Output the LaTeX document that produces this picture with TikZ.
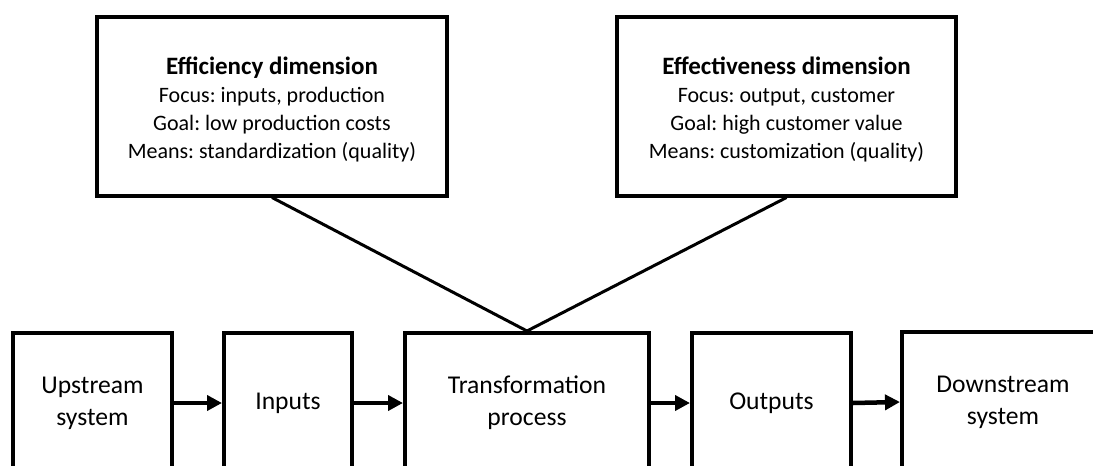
\documentclass[tikz,border=0pt]{standalone}
\usepackage{fontspec}
\setmainfont{Carlito}
\frenchspacing
\usetikzlibrary{arrows.meta}
\begin{document}
\begin{tikzpicture}[x=1pt,y=-1pt,
  topbox/.style={draw, line width=4pt, minimum width=#1, minimum height=179pt, inner sep=0pt},
  toptext/.style={align=center, inner sep=0pt, font=\fontsize{22}{28}\selectfont},
  headfont/.style={font=\fontsize{25}{28}\selectfont\bfseries},
  flowbox/.style={draw, line width=4pt, minimum width=#1, minimum height=140pt, align=center, inner sep=0pt, font=\fontsize{25.6}{32}\selectfont},
  link/.style={line width=3pt},
  flow/.style={line width=4.5pt, -{Triangle[length=15pt,width=15pt]}}]
\useasboundingbox (0,0) rectangle (1093,466);
\clip (0,0) rectangle (1093,466);
\node[topbox=350pt] (eff) at (272,106) {};
\node[toptext] (efft) at (272,109) {{\fontsize{25}{28}\selectfont\bfseries Efficiency dimension}\\Focus: inputs, production\\Goal: low production costs\\Means: standardization (quality)};
\node[topbox=339pt] (efv) at (786.5,106) {};
\node[toptext] (efvt) at (786.5,109) {{\fontsize{25}{28}\selectfont\bfseries Effectiveness dimension}\\Focus: output, customer\\Goal: high customer value\\Means: customization (quality)};
\node[flowbox=159pt] (up) at (92.5,403) {Upstream\\system};
\node[flowbox=128pt] (in) at (288,403) {Inputs};
\node[flowbox=244pt] (tp) at (527,403) {Transformation\\process};
\node[flowbox=159pt] (out) at (771.5,403) {Outputs};
\node[flowbox=202pt] (down) at (1003,402) {Downstream\\system};
\draw[link] (eff.south) -- (tp.north);
\draw[link] (efv.south) -- (tp.north);
\draw[flow] (up) -- (in);
\draw[flow] (in) -- (tp);
\draw[flow] (tp) -- (out);
\draw[flow] (out.east) -- (down.west);
\end{tikzpicture}
\end{document}
